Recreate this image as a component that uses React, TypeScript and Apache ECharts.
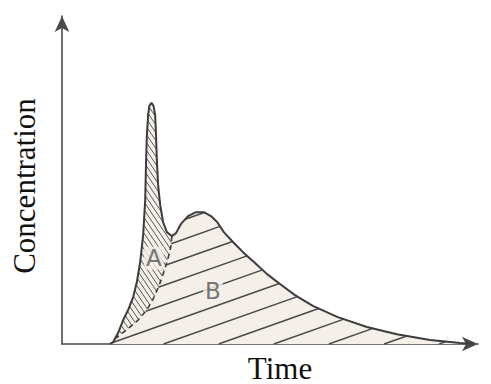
import React, { useEffect, useRef } from "react";
import * as echarts from "echarts";

// Curve (time, concentration), arbitrary units 0..100
const curveTime = [11.5, 12.3, 13.5, 14.7, 15.9, 17.1, 18.0, 18.8, 19.5, 20.0, 20.2, 20.4, 20.7, 21.0, 21.5, 22.0, 22.4, 22.6, 22.8, 23.1, 23.6, 24.3, 25.2, 26.4, 27.4, 28.6, 30.3, 32.2, 34.1, 35.8, 37.3, 38.9, 41.1, 43.5, 46.4, 49.3, 52.4, 56.0, 60.3, 66.3, 73.3, 80.5, 88.5, 95.7, 99.0];
const curveConc = [0, 0.6, 3.4, 7.3, 10.4, 14.3, 18.9, 25.0, 33.2, 43.9, 55.2, 63.7, 69.8, 72.6, 73.5, 72.6, 69.8, 63.7, 56.1, 48.5, 42.4, 37.2, 34.1, 32.9, 33.8, 36.6, 39.0, 40.2, 40.2, 39.0, 37.2, 34.1, 31.1, 28.0, 24.7, 21.3, 18.3, 14.9, 11.6, 8.2, 5.2, 3.0, 1.2, 0.3, 0];
const valleyIndex = 23;

// Dashed divider between areas A and B (from the valley down to the base)
const dividerTime = [26.4, 26.2, 25.5, 24.5, 23.3, 21.9, 20.4, 18.3, 16.1, 13.9, 13.0];
const dividerConc = [32.9, 29.9, 26.2, 22.0, 17.7, 13.7, 10.4, 7.3, 4.9, 2.7, 1.8];

// Area labels
const areaNames = ["A", "B"];
const areaTime = [22.1, 36.3];
const areaConc = [26.2, 16.2];

const xTitle = "Time";
const yTitle = "Concentration";

const curve = curveTime.map((t, i) => [t, curveConc[i]]);
const divider = dividerTime.map((t, i) => [t, dividerConc[i]]);

function hatchLines(poly: number[][], angleDeg: number, spacing: number, origin: number[], stroke: string, lineWidth: number) {
  const a = (angleDeg * Math.PI) / 180;
  const dx = Math.cos(a), dy = Math.sin(a);
  const nx = -dy, ny = dx;
  const s = poly.map((p) => p[0] * nx + p[1] * ny);
  const s0 = origin[0] * nx + origin[1] * ny;
  const smin = Math.min(...s), smax = Math.max(...s);
  const kmin = Math.ceil((smin - s0) / spacing), kmax = Math.floor((smax - s0) / spacing);
  const out: any[] = [];
  const n = poly.length;
  for (let k = kmin; k <= kmax; k++) {
    const sv = s0 + k * spacing;
    const pts: number[][] = [];
    for (let i = 0; i < n; i++) {
      const j = (i + 1) % n;
      if ((s[i] < sv) !== (s[j] < sv)) {
        const t = (sv - s[i]) / (s[j] - s[i]);
        pts.push([poly[i][0] + t * (poly[j][0] - poly[i][0]), poly[i][1] + t * (poly[j][1] - poly[i][1])]);
      }
    }
    pts.sort((p, q) => p[0] * dx + p[1] * dy - (q[0] * dx + q[1] * dy));
    for (let m = 0; m + 1 < pts.length; m += 2) {
      out.push({
        type: "line",
        silent: true,
        shape: { x1: pts[m][0], y1: pts[m][1], x2: pts[m + 1][0], y2: pts[m + 1][1] },
        style: { stroke, lineWidth },
      });
    }
  }
  return out;
}

export default function App() {
  const ref = useRef<HTMLDivElement>(null);
  useEffect(() => {
    if (!ref.current) return;
    const chart = echarts.init(ref.current, null, { renderer: "svg" });
    const fill = "#f4efe9";
    const ink = "#3c3c3c";
    chart.setOption({
      animation: false,
      backgroundColor: "#ffffff",
      grid: { left: 62, right: 13, top: 16, bottom: 40 },
      xAxis: {
        type: "value",
        min: 0,
        max: 100,
        axisLine: { show: true, symbol: ["none", "arrow"], symbolSize: [11, 16], lineStyle: { color: "#4a4a4a", width: 1.6 } },
        axisTick: { show: false },
        axisLabel: { show: false },
        splitLine: { show: false },
      },
      yAxis: {
        type: "value",
        min: 0,
        max: 100,
        axisLine: { show: true, onZero: false, symbol: ["none", "arrow"], symbolSize: [11, 16], lineStyle: { color: "#4a4a4a", width: 1.6 } },
        axisTick: { show: false },
        axisLabel: { show: false },
        splitLine: { show: false },
      },
      graphic: [
        {
          type: "text",
          x: 24,
          y: 186,
          rotation: Math.PI / 2,
          style: { text: yTitle, font: '31px "Liberation Serif"', fill: "#111", align: "center", verticalAlign: "middle" },
        },
        {
          type: "text",
          x: 280,
          y: 368,
          style: { text: xTitle, font: '31px "Liberation Serif"', fill: "#111", align: "center", verticalAlign: "middle" },
        },
      ],
      series: [
        {
          type: "line",
          data: curve,
          showSymbol: false,
          symbol: "none",
          z: 1,
          lineStyle: { width: 0 },
          areaStyle: { color: fill, opacity: 1 },
        },
        {
          type: "custom",
          coordinateSystem: "cartesian2d",
          data: [[0, 0]],
          clip: false,
          z: 2,
          silent: true,
          renderItem: (_params: any, api: any) => {
            const toPx = (p: number[]) => api.coord(p);
            const polyA = [
              ...curve.slice(0, valleyIndex + 1).map(toPx),
              ...divider.slice(1).map(toPx),
            ];
            const polyB = [
              ...divider.slice().reverse().map(toPx),
              ...curve.slice(valleyIndex + 1).map(toPx),
              toPx([curveTime[0], 0]),
            ];
            const a = hatchLines(polyA, 56, 4.4, [150, 250], "#5a5a5a", 1);
            const b = hatchLines(polyB, -19.5, 18.4, [200, 253], "#4a4a4a", 1.5);
            return { type: "group", children: [...a, ...b] };
          },
        },
        {
          type: "line",
          data: divider,
          showSymbol: false,
          symbol: "none",
          z: 3,
          lineStyle: { color: ink, width: 1.6, type: [5, 4] },
        },
        {
          type: "line",
          data: curve,
          showSymbol: false,
          symbol: "none",
          z: 4,
          lineStyle: { color: ink, width: 2 },
        },
        {
          type: "scatter",
          data: areaNames.map((nm, i) => ({ name: nm, value: [areaTime[i], areaConc[i]] })),
          symbolSize: 0,
          z: 5,
          silent: true,
          label: {
            show: true,
            position: "inside",
            formatter: "{b}",
            fontFamily: "DejaVu Sans",
            fontSize: 23,
            color: "#555",
            backgroundColor: fill,
            padding: [0, 2],
          },
        },
      ],
    });
    return () => chart.dispose();
  }, []);
  return <div ref={ref} style={{ position: "absolute", left: 0, top: 0, width: 491, height: 384, background: "#fff" }} />;
}
